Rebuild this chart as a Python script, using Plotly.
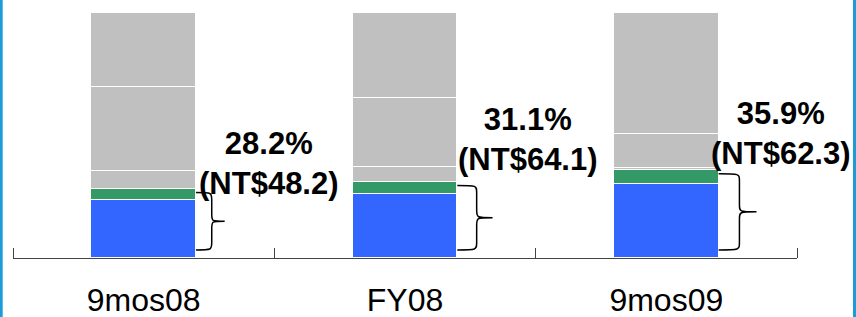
import plotly.graph_objects as go

# ---- data ----
categories = ["9mos08", "FY08", "9mos09"]
blue_vals = [23.7, 26.1, 30.2]
green_vals = [4.5, 5.0, 5.7]
gray_small = [7.3, 6.1, 0.8]
gray_mid = [34.3, 28.2, 13.9]
gray_top = [30.2, 34.6, 49.4]
share_pct = [28.2, 31.1, 35.9]
share_amt = [48.2, 64.1, 62.3]

# ---- layout config ----
W, H = 856, 317
ML, MR, MT, MB = 13, 59, 13, 59
label_dx = [0.48, 0.47, 0.44]
label_y = [38.4, 48.2, 51.0]
brace_w = [0.11, 0.135, 0.145]
BAR_W = 0.4
FONT = "Arial, Liberation Sans, sans-serif"

xs = list(range(len(categories)))
fig = go.Figure()
series = [
    (blue_vals, "#3366FF"),
    (green_vals, "#339966"),
    (gray_small, "#C0C0C0"),
    (gray_mid, "#C0C0C0"),
    (gray_top, "#C0C0C0"),
]
for vals, col in series:
    fig.add_trace(go.Bar(x=xs, y=vals, width=BAR_W, marker=dict(color=col, line=dict(color="white", width=1)),
                         showlegend=False, hoverinfo="skip"))

shapes = []
# braces
for i, s in enumerate(share_pct):
    x0 = i + BAR_W / 2
    xt = x0 + brace_w[i]
    xm = x0 + brace_w[i] * 0.55
    yt = s - 1.5
    yb = 3.3
    ym = (yt + yb) / 2
    r = 3.0
    path = (f"M {x0},{yt} C {xm},{yt} {xm},{yt} {xm},{yt - r} "
            f"L {xm},{ym + r} C {xm},{ym} {xm},{ym} {xt},{ym} "
            f"C {xm},{ym} {xm},{ym} {xm},{ym - r} "
            f"L {xm},{yb + r} C {xm},{yb} {xm},{yb} {x0},{yb}")
    shapes.append(dict(type="path", xref="x", yref="y", path=path, line=dict(color="black", width=1.5)))

# side frame lines
pw = W - ML - MR
ph = H - MT - MB
for px in (1.2, 854.5):
    xp = (px - ML) / pw
    shapes.append(dict(type="line", xref="paper", yref="paper", x0=xp, x1=xp,
                       y0=-MB / ph, y1=1 + MT / ph, line=dict(color="#1B9CD8", width=3)))

annotations = []
for i, (p, a) in enumerate(zip(share_pct, share_amt)):
    annotations.append(dict(x=i + label_dx[i], y=label_y[i], xref="x", yref="y",
                            text=f"<b>{p:.1f}%<br>(NT${a:.1f})</b>", showarrow=False,
                            xanchor="center", yanchor="middle",
                            font=dict(family=FONT, size=31, color="black")))

fig.update_layout(
    width=W, height=H, barmode="stack", bargap=0,
    margin=dict(l=ML, r=MR, t=MT, b=MB, autoexpand=False),
    paper_bgcolor="white", plot_bgcolor="white",
    shapes=shapes, annotations=annotations,
    xaxis=dict(range=[-0.5, 2.5], tickvals=xs, ticktext=categories, ticks="", automargin=False,
               showline=True, linecolor="#444444", linewidth=1, showgrid=False, zeroline=False,
               tickfont=dict(family=FONT, size=32, color="black"), ticklabelstandoff=14,
               minor=dict(tickmode="linear", tick0=-0.5, dtick=1, ticks="inside", ticklen=10,
                          tickcolor="#444444", tickwidth=1, showgrid=False)),
    yaxis=dict(range=[0, 100], visible=False, automargin=False),
)

fig.write_html("out.html", config={"displayModeBar": False},
               post_script="document.body.style.margin='0';")
